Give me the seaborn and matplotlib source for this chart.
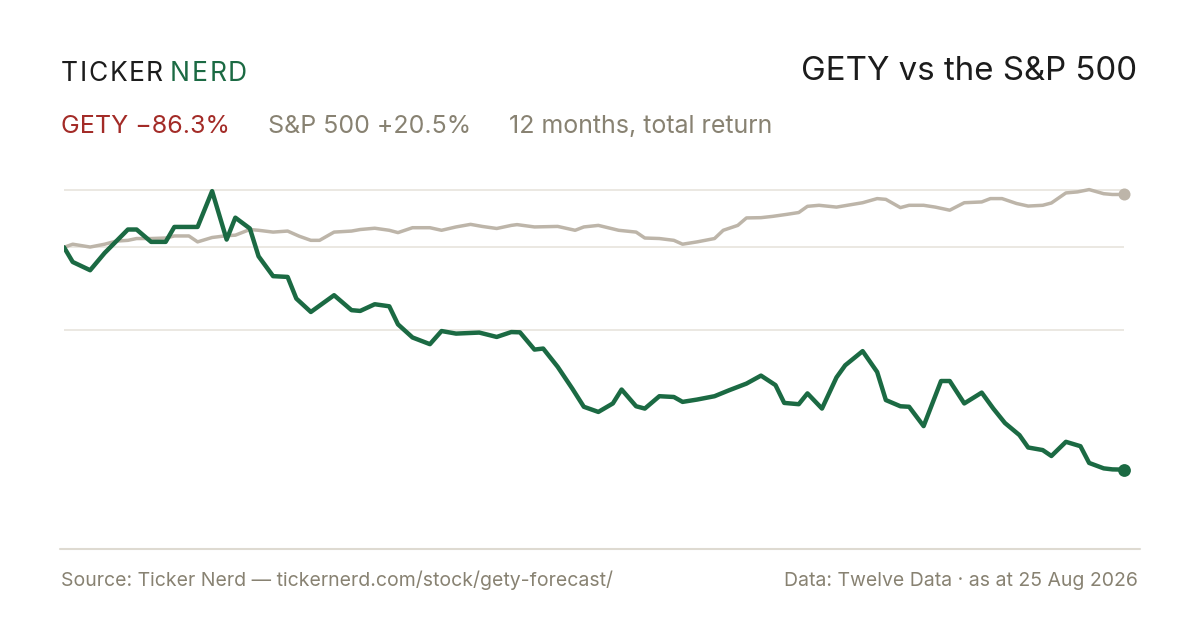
import pandas as pd
import matplotlib
matplotlib.use("Agg")
import matplotlib.pyplot as plt
import seaborn as sns
from matplotlib.lines import Line2D

# Datos (rentabilidad acumulada en %, dias desde el inicio)
START = "2025-08-25"

gety_days = [0, 3, 9, 14, 22, 25, 30, 35, 38, 46, 51, 56, 59, 64, 67, 72, 77, 80, 85, 93,
             99, 102, 107, 112, 115, 120, 126, 130, 135, 143, 149, 154, 157, 162, 165, 170,
             175, 179, 184, 189, 192, 197, 200, 205, 210, 213, 218, 224, 229, 235, 240, 245,
             248, 253, 256, 261, 266, 269, 275, 280, 283, 288, 291, 296, 302, 305, 310, 316,
             320, 324, 329, 332, 337, 340, 345, 350, 353, 358, 361, 365]
gety_ret = [0.0, -5.7, -8.9, -2.2, 6.9, 6.9, 2.1, 2.1, 7.9, 7.9, 21.8, 3.0, 11.5, 7.3, -3.5,
            -11.2, -11.5, -19.9, -25.1, -18.6, -24.4, -24.7, -22.1, -22.9, -29.9, -35.0, -37.6,
            -32.5, -33.5, -33.1, -34.8, -32.9, -33.0, -39.7, -39.3, -46.4, -54.8, -61.9, -63.9,
            -60.6, -55.2, -61.7, -62.6, -57.8, -58.1, -60.0, -59.1, -57.8, -55.5, -52.9, -49.8,
            -53.5, -60.4, -60.9, -56.7, -62.6, -50.5, -45.8, -40.3, -48.4, -59.3, -61.7, -61.9,
            -69.4, -51.9, -51.9, -60.6, -56.4, -62.6, -68.2, -72.9, -77.7, -78.7, -81.0, -75.5,
            -77.2, -83.7, -85.8, -86.2, -86.3]

spx_days = [0, 3, 9, 14, 18, 22, 25, 30, 35, 38, 43, 46, 51, 56, 59, 64, 67, 72, 77, 81,
            85, 88, 93, 99, 102, 107, 112, 115, 120, 126, 130, 135, 140, 144, 149, 154, 156,
            162, 170, 176, 179, 184, 191, 197, 200, 205, 210, 213, 218, 224, 227, 232, 235,
            240, 244, 249, 253, 256, 260, 266, 275, 280, 283, 288, 291, 296, 300, 305, 310,
            316, 319, 323, 328, 332, 337, 340, 345, 349, 353, 358, 361, 365]
spx_ret = [0.0, 1.2, 0.1, 1.2, 2.4, 2.7, 3.4, 3.4, 3.6, 4.4, 4.4, 2.1, 3.8, 4.5, 4.7, 6.9,
           6.6, 5.9, 6.3, 4.3, 2.7, 2.7, 5.9, 6.3, 6.9, 7.4, 6.6, 5.7, 7.6, 7.6, 6.6, 7.9, 8.9,
           8.1, 7.3, 8.5, 8.8, 7.9, 8.1, 6.6, 7.9, 8.5, 6.6, 5.9, 3.6, 3.4, 2.7, 1.2, 2.1, 3.4,
           6.6, 8.5, 11.4, 11.5, 12.0, 12.8, 13.5, 15.9, 16.3, 15.6, 17.3, 18.9, 18.6, 15.4,
           16.3, 16.3, 15.6, 14.4, 17.3, 17.6, 18.9, 18.9, 17.0, 16.0, 16.3, 17.2, 21.1, 21.5,
           22.4, 20.8, 20.5, 20.5]

TITLE = "GETY vs the S&P 500"
SUBTITLE = ["GETY \u221286.3%", "S&P 500 +20.5%", "12 months, total return"]
SOURCE = "Source: Ticker Nerd \u2014 tickernerd.com/stock/gety-forecast/"
DATA_NOTE = "Data: Twelve Data \u00b7 as at 25 Aug 2026"

GREEN = "#1b6a43"
SPX_GREY = "#bdb5a9"
RED = "#a32b27"
MUTED = "#888272"
INK = "#1c1c1c"
GRID = "#e9e6df"

W, H = 1200, 630

start = pd.Timestamp(START)
gety = pd.DataFrame({"date": start + pd.to_timedelta(gety_days, unit="D"), "ret": gety_ret})
spx = pd.DataFrame({"date": start + pd.to_timedelta(spx_days, unit="D"), "ret": spx_ret})

sns.set_theme(style="white")
plt.rcParams["font.family"] = ["Inter", "DejaVu Sans"]

fig = plt.figure(figsize=(W / 100, H / 100), dpi=100)
fig.patch.set_facecolor("white")

# zona del grafico: 64..1124 px en x, 170..549 px en y
ax = fig.add_axes([64 / W, 1 - 549 / H, 1060 / W, 379 / H])
ax.set_facecolor("white")

ymax = max(max(gety_ret), max(spx_ret))
ymin = min(min(gety_ret), min(spx_ret))
for yv in [ymax, 0, (ymax + ymin) / 2]:
    ax.axhline(yv, color=GRID, lw=1.3, zorder=0)

sns.lineplot(data=spx, x="date", y="ret", color=SPX_GREY, lw=2.5, ax=ax, zorder=2)
sns.lineplot(data=gety, x="date", y="ret", color=GREEN, lw=3.2, ax=ax, zorder=3)
sns.scatterplot(data=spx.tail(1), x="date", y="ret", color=SPX_GREY, s=75, linewidth=0,
                ax=ax, zorder=4, clip_on=False)
sns.scatterplot(data=gety.tail(1), x="date", y="ret", color=GREEN, s=85, linewidth=0,
                ax=ax, zorder=5, clip_on=False)

ax.set_xlim(gety["date"].iloc[0], gety["date"].iloc[-1])
ax.set_ylim(ymin - 30.8, ymax + 7.6)
ax.set_xlabel("")
ax.set_ylabel("")
ax.set_xticks([])
ax.set_yticks([])
for s in ax.spines.values():
    s.set_visible(False)

# linea inferior
fig.add_artist(Line2D([60 / W, 1140 / W], [1 - 548.5 / H] * 2, color="#dedad1", lw=1.5))

renderer = fig.canvas.get_renderer()


def px_text(x, y, s, **kw):
    return fig.text(x / W, 1 - y / H, s, va="baseline", **kw)


def spaced(x, y, s, color, size, gap):
    for ch in s:
        t = px_text(x, y, ch, color=color, fontsize=size)
        x += t.get_window_extent(renderer).width + gap
    return x


# logo
x_end = spaced(61, 81, "TICKER", INK, 19, 1.6)
spaced(x_end + 5, 81, "NERD", GREEN, 19, 1.8)

# titulo
px_text(1137, 80, TITLE, color=INK, fontsize=23.8, ha="right")

# subtitulo
x = 61
for txt, col in zip(SUBTITLE, [RED, MUTED, MUTED]):
    t = px_text(x, 133, txt, color=col, fontsize=18)
    x += t.get_window_extent(renderer).width + 38

# pie
px_text(61, 586, SOURCE, color=MUTED, fontsize=14)
px_text(1138, 586, DATA_NOTE, color=MUTED, fontsize=14, ha="right")

fig.savefig("out.png", dpi=100, facecolor="white")
